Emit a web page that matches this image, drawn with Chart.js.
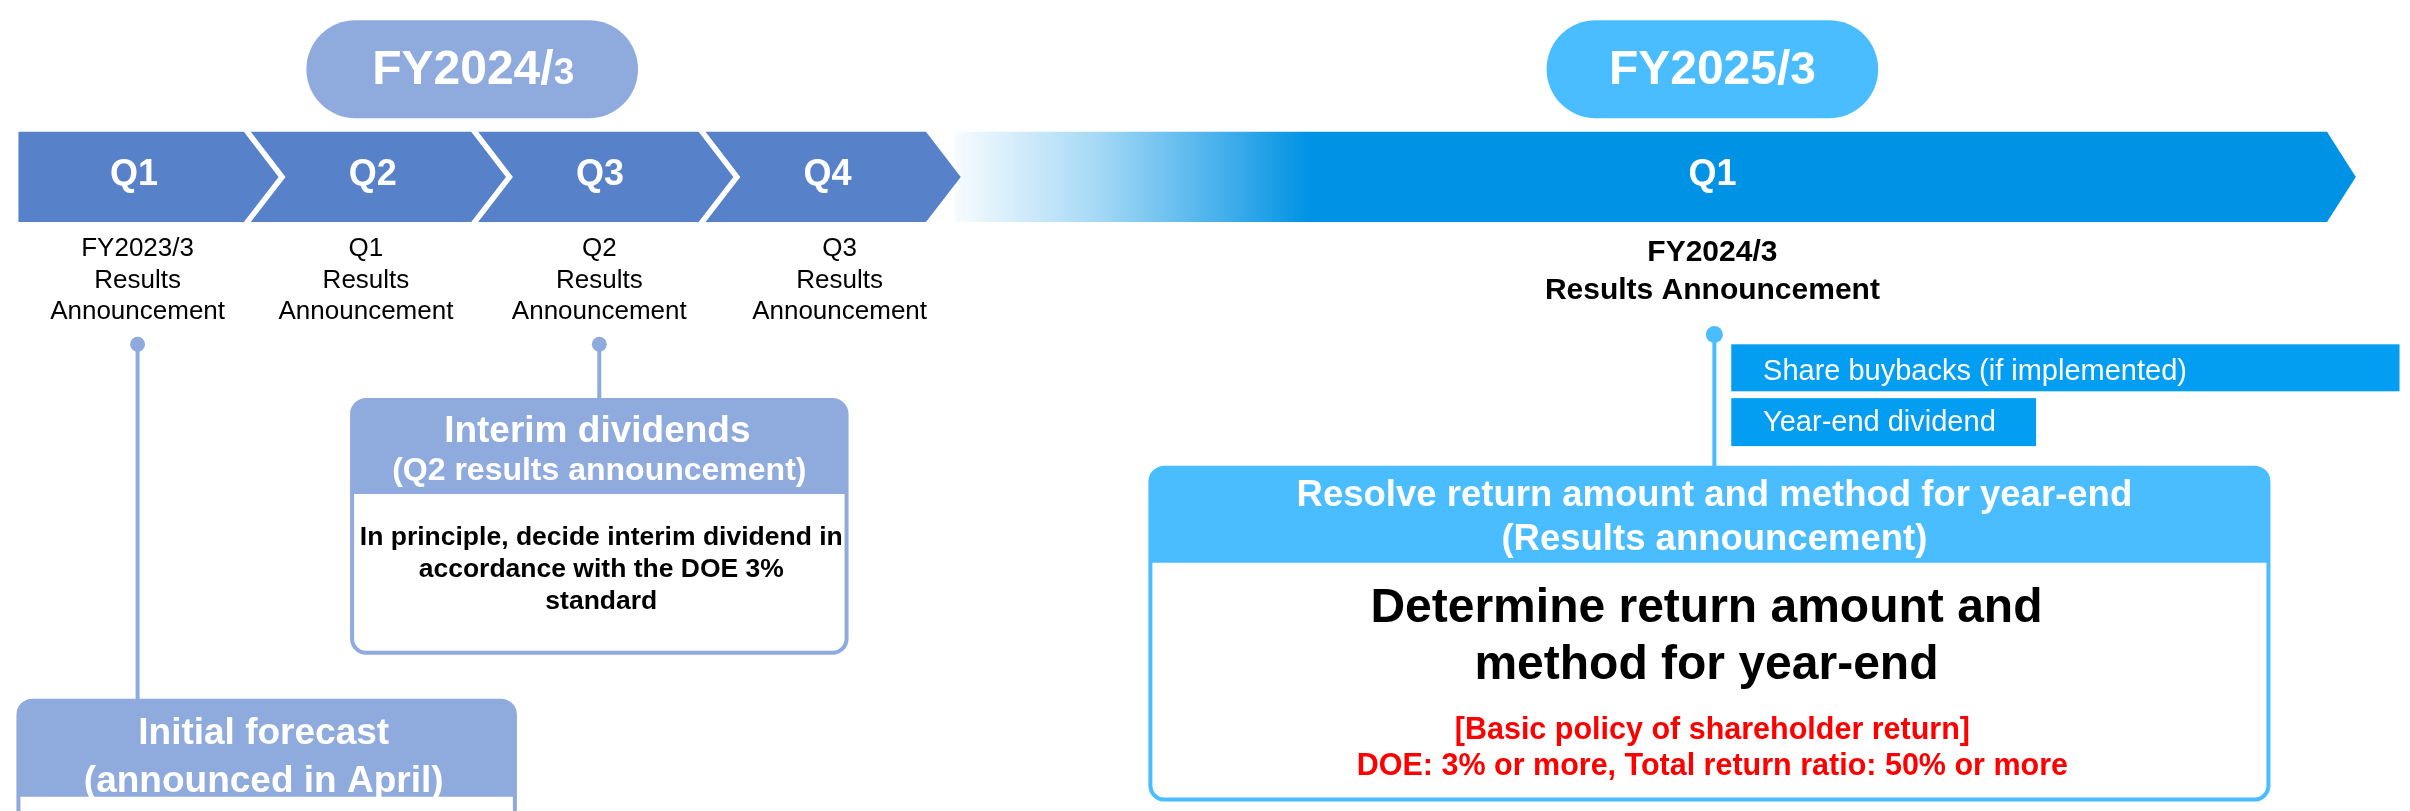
<!DOCTYPE html>
<html>
<head>
<meta charset="utf-8">
<script src="https://cdn.jsdelivr.net/npm/chart.js@4.4.1/dist/chart.umd.min.js"></script>
<style>
  html, body { margin: 0; padding: 0; background: #fff; }
  #wrap { width: 2410px; height: 811px; position: relative; }
</style>
</head>
<body>
<div id="wrap"><canvas id="timeline"></canvas></div>
<script>
// --- text content ---
const fiscalYears = ['FY2024/3', 'FY2025/3']
const quarters = ['Q1', 'Q2', 'Q3', 'Q4']
const nextQuarters = ['Q1']
const announcements = [
  ['FY2023/3', 'Results', 'Announcement'],
  ['Q1', 'Results', 'Announcement'],
  ['Q2', 'Results', 'Announcement'],
  ['Q3', 'Results', 'Announcement']
]
const nextAnnouncement = ['FY2024/3', 'Results Announcement']
const interimTitle = ['Interim dividends', '(Q2 results announcement)']
const interimBody = ['In principle, decide interim dividend in', 'accordance with the DOE 3%', 'standard']
const forecastTitle = ['Initial forecast', '(announced in April)']
const returnMethods = ['Share buybacks (if implemented)', 'Year-end dividend']
const yearEndTitle = ['Resolve return amount and method for year-end', '(Results announcement)']
const yearEndBody = ['Determine return amount and', 'method for year-end']
const policyLines = ['[Basic policy of shareholder return]', 'DOE: 3% or more, Total return ratio: 50% or more']

// --- layout / styles ---
const FONT = '"Liberation Sans", Arial, sans-serif'
const colors = {
  chevron: '#5781c9',
  pale: '#8fabdd',
  sky: '#49bdff',
  deep: '#0092e4',
  action: '#039ef2',
  red: '#ff0000',
  ink: '#000000'
}
const band = { top: 126, bottom: 218, leftEdge: 10, x0: 15, step: 229, body: 222, tip: 35 }
const nextBand = { fadeStart: 953, solidAt: 1311, end: 2335, tip: 29, center: 1716 }
const announceX = [130, 360, 595, 837]

function quarterCenter(i) {
  const L = band.x0 + band.step * i
  const start = i === 0 ? band.leftEdge : L + band.tip / 2
  return (start + L + band.body) / 2 + 3
}

const connectors = [
  { x: 130, y0: 343, y1: 708, color: colors.pale, r: 7.5 },
  { x: 595, y0: 343, y1: 400, color: colors.pale, r: 7.5 },
  { x: 1718, y0: 333, y1: 470, color: colors.sky, r: 8.5 }
]

function lines(ctx, sx, sy, list, x, baselines, font, color, align) {
  ctx.font = font
  ctx.fillStyle = color
  ctx.textAlign = align || 'center'
  ctx.textBaseline = 'alphabetic'
  list.forEach((t, i) => ctx.fillText(t, sx(x), sy(baselines[i])))
}

function fiscalLabel(ctx, sx, sy, label, cx, baseline, tailSize) {
  const head = label.slice(0, -1)
  const tail = label.slice(-1)
  const fHead = `bold 48px ${FONT}`
  const fTail = `bold ${tailSize}px ${FONT}`
  ctx.font = fHead
  const wHead = ctx.measureText(head).width
  ctx.font = fTail
  const wTail = ctx.measureText(tail).width
  const x = sx(cx) - (wHead + wTail) / 2
  ctx.fillStyle = '#fff'
  ctx.textAlign = 'left'
  ctx.textBaseline = 'alphabetic'
  ctx.font = fHead
  ctx.fillText(head, x, sy(baseline))
  ctx.font = fTail
  ctx.fillText(tail, x + wHead, sy(baseline))
}

function headedBox(ctx, sx, sy, box, color) {
  const x = sx(box.x0), y = sy(box.y0), w = sx(box.x1) - x, h = sy(box.y1) - y
  const hh = sy(box.head) - y
  ctx.fillStyle = '#fff'
  ctx.beginPath(); ctx.roundRect(x, y, w, h, 14); ctx.fill()
  ctx.fillStyle = color
  ctx.beginPath(); ctx.roundRect(x, y, w, hh, [14, 14, 0, 0]); ctx.fill()
  ctx.strokeStyle = color
  ctx.lineWidth = 4
  ctx.beginPath(); ctx.roundRect(x, y, w, h, 14); ctx.stroke()
}

const diagram = {
  id: 'diagram',
  beforeDatasetsDraw(chart) {
    const ctx = chart.ctx
    const sx = v => chart.scales.x.getPixelForValue(v)
    const sy = v => chart.scales.y.getPixelForValue(v)
    ctx.save()

    // fiscal year pills
    ctx.fillStyle = colors.pale
    ctx.beginPath(); ctx.roundRect(sx(300), sy(12), sx(634) - sx(300), sy(112) - sy(12), 50); ctx.fill()
    ctx.fillStyle = colors.sky
    ctx.beginPath(); ctx.roundRect(sx(1549), sy(12), sx(1883) - sx(1549), sy(112) - sy(12), 50); ctx.fill()
    fiscalLabel(ctx, sx, sy, fiscalYears[0], 468, 77, 37)
    fiscalLabel(ctx, sx, sy, fiscalYears[1], 1716, 77, 46)

    // chevrons for the current year
    const top = sy(band.top), bot = sy(band.bottom), mid = (top + bot) / 2
    quarters.forEach((q, i) => {
      const L = band.x0 + band.step * i
      const R = L + band.body
      ctx.fillStyle = colors.chevron
      ctx.beginPath()
      ctx.moveTo(sx(i === 0 ? band.leftEdge : L), top)
      ctx.lineTo(sx(R), top)
      ctx.lineTo(sx(R + band.tip), mid)
      ctx.lineTo(sx(R), bot)
      ctx.lineTo(sx(i === 0 ? band.leftEdge : L), bot)
      if (i > 0) ctx.lineTo(sx(L + band.tip), mid)
      ctx.closePath()
      ctx.fill()
      lines(ctx, sx, sy, [q], quarterCenter(i), [180], `bold 36px ${FONT}`, '#fff')
      lines(ctx, sx, sy, announcements[i], announceX[i], [253, 285, 317], `26px ${FONT}`, colors.ink)
    })

    // fading arrow for next year
    const grad = ctx.createLinearGradient(sx(nextBand.fadeStart), 0, sx(nextBand.solidAt), 0)
    grad.addColorStop(0, 'rgba(0,146,228,0.03)')
    grad.addColorStop(0.4, 'rgba(0,146,228,0.35)')
    grad.addColorStop(1, 'rgba(0,146,228,1)')
    ctx.fillStyle = grad
    ctx.beginPath()
    ctx.moveTo(sx(nextBand.fadeStart), top)
    ctx.lineTo(sx(nextBand.end), top)
    ctx.lineTo(sx(nextBand.end + nextBand.tip), mid)
    ctx.lineTo(sx(nextBand.end), bot)
    ctx.lineTo(sx(nextBand.fadeStart), bot)
    ctx.closePath()
    ctx.fill()
    lines(ctx, sx, sy, nextQuarters, nextBand.center, [180], `bold 36px ${FONT}`, '#fff')
    lines(ctx, sx, sy, nextAnnouncement, nextBand.center, [258, 297], `bold 30px ${FONT}`, colors.ink)

    // interim dividends box
    headedBox(ctx, sx, sy, { x0: 346, y0: 400, x1: 844, y1: 658, head: 496 }, colors.pale)
    lines(ctx, sx, sy, [interimTitle[0]], 593, [443], `bold 37px ${FONT}`, '#fff')
    lines(ctx, sx, sy, [interimTitle[1]], 595, [482], `bold 32px ${FONT}`, '#fff')
    lines(ctx, sx, sy, interimBody, 597, [548, 581, 613], `bold 26.5px ${FONT}`, colors.ink)

    // initial forecast box
    headedBox(ctx, sx, sy, { x0: 10, y0: 707, x1: 510, y1: 850, head: 805 }, colors.pale)
    lines(ctx, sx, sy, forecastTitle, 257, [751, 800], `bold 37px ${FONT}`, '#fff')

    // return methods
    ctx.fillStyle = colors.action
    ctx.fillRect(sx(1735), sy(343), sx(2408) - sx(1735), sy(391) - sy(343))
    ctx.fillRect(sx(1735), sy(398), sx(2042) - sx(1735), sy(447) - sy(398))
    lines(ctx, sx, sy, [returnMethods[0]], 1767, [379], `29px ${FONT}`, '#fff', 'left')
    lines(ctx, sx, sy, [returnMethods[1]], 1767, [432], `29px ${FONT}`, '#fff', 'left')

    // year-end box
    headedBox(ctx, sx, sy, { x0: 1150, y0: 469, x1: 2276, y1: 808, head: 566 }, colors.sky)
    lines(ctx, sx, sy, yearEndTitle, 1718, [508, 553], `bold 36.5px ${FONT}`, '#fff')
    lines(ctx, sx, sy, yearEndBody, 1710, [627, 685], `bold 48px ${FONT}`, colors.ink)
    lines(ctx, sx, sy, policyLines, 1716, [746, 783], `bold 30.5px ${FONT}`, colors.red)

    ctx.restore()
  }
}

new Chart(document.getElementById('timeline'), {
  type: 'scatter',
  data: {
    datasets: connectors.map(c => ({
      data: [{ x: c.x, y: c.y0 }, { x: c.x, y: c.y1 }],
      showLine: true,
      borderColor: c.color,
      borderWidth: 4,
      pointRadius: [c.r, 0],
      pointBackgroundColor: c.color,
      pointBorderWidth: 0
    }))
  },
  options: {
    responsive: true,
    maintainAspectRatio: false,
    animation: false,
    events: [],
    layout: { padding: 0 },
    plugins: { legend: { display: false }, tooltip: { enabled: false } },
    scales: {
      x: { type: 'linear', min: 0, max: 2410, display: false },
      y: { type: 'linear', min: 0, max: 811, reverse: true, display: false }
    }
  },
  plugins: [diagram]
})
</script>
</body>
</html>
